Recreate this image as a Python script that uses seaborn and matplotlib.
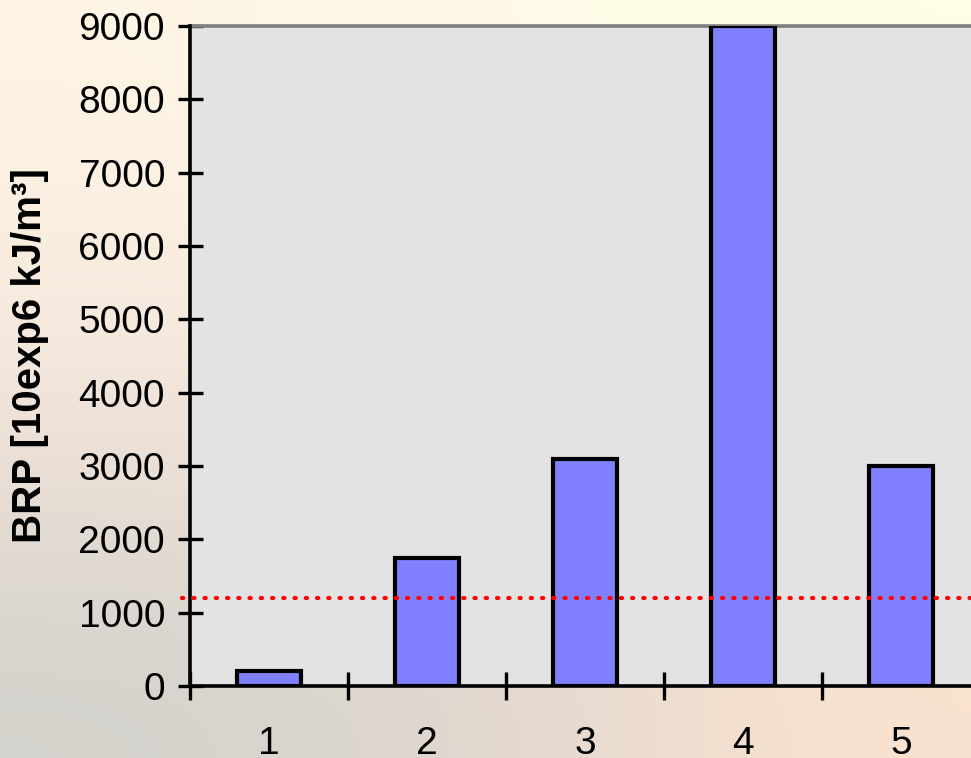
import numpy as np
import pandas as pd
import matplotlib
matplotlib.use("Agg")
import matplotlib.pyplot as plt
import seaborn as sns

# Data
categories = ["1", "2", "3", "4", "5"]
brp_values = [200, 1750, 3100, 9000, 3000]
threshold = 1200
y_ticks = [0, 1000, 2000, 3000, 4000, 5000, 6000, 7000, 8000, 9000]
y_label = "BRP [10exp6 kJ/m³]"

df = pd.DataFrame({"case": categories, "brp": brp_values})

sns.set_theme(style="white")
plt.rcParams["font.family"] = ["Liberation Sans", "DejaVu Sans"]

fig = plt.figure(figsize=(9.71, 7.58), dpi=100)

# Soft warm backdrop behind the chart
bg = fig.add_axes([0, 0, 1, 1], zorder=-10)
grid = np.array([
    [[253, 244, 228], [255, 251, 232], [255, 254, 232]],
    [[247, 230, 220], [244, 232, 222], [252, 234, 214]],
    [[212, 211, 205], [222, 214, 208], [250, 226, 206]],
], dtype=float) / 255.0
bg.imshow(grid, extent=[0, 1, 0, 1], aspect="auto", interpolation="bicubic")
bg.set_axis_off()

W, H = 971, 758
left, top, bottom = 190, 26, 686
step = 158
ax = fig.add_axes([left / W, (H - bottom) / H, 5 * step / W, (bottom - top) / H])
ax.set_facecolor("#e3e3e3")

sns.barplot(data=df, x="case", y="brp", color="#8080ff", saturation=1,
            edgecolor="black", linewidth=3.0, width=0.405, ax=ax, zorder=3)

ax.set_xlim(-0.5, 4.5)
ax.set_ylim(0, 9000)
ax.set_yticks(y_ticks)
ax.set_yticklabels([str(v) for v in y_ticks])

# Category boundaries carry the x tick marks; labels sit at the centres
ax.set_xticks(range(len(categories)))
ax.set_xticklabels(categories)
ax.set_xticks(np.arange(-0.5, len(categories), 1.0), minor=True)
ax.tick_params(axis="x", which="major", length=0, pad=29, labelsize=28, colors="black")
ax.tick_params(axis="x", which="minor", direction="inout", length=20, width=2.4,
               color="black", bottom=True)
ax.tick_params(axis="y", which="major", direction="inout", length=18, width=2.4,
               color="black", left=True, pad=9, labelsize=28, labelcolor="black")

ax.set_xlabel("")
ax.set_ylabel(y_label, fontsize=29, fontweight="bold", color="black")
ax.yaxis.set_label_coords(-0.178, 0.5)

for side in ("left", "bottom"):
    ax.spines[side].set_color("black")
    ax.spines[side].set_linewidth(2.6)
    ax.spines[side].set_zorder(5)
ax.spines["top"].set_color("#7f7f7f")
ax.spines["top"].set_linewidth(2.6)
ax.spines["right"].set_visible(False)

# Reference level
ax.plot([-0.55, 4.5], [threshold, threshold], color="#ff0000", lw=3.0,
        linestyle=(0, (0.3, 2.4)), dash_capstyle="round", clip_on=False, zorder=6)

fig.savefig("out.png", dpi=100)
